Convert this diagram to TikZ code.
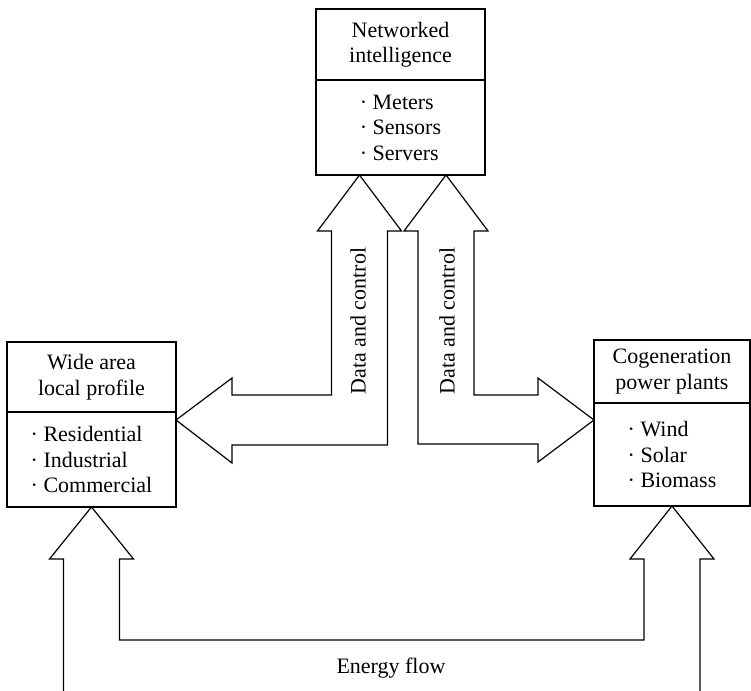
\documentclass[tikz,border=0pt]{standalone}
\usepackage{fontspec}
\setmainfont{Liberation Serif}
\usepackage{tikz}
\usetikzlibrary{positioning,calc}
\newcommand{\itemdot}{\textperiodcentered\ }

\begin{document}
\begin{tikzpicture}[x=0.5pt, y=-0.5pt, line width=0.6pt,
    font=\fontsize{11}{12.75}\selectfont,
    headbox/.style={draw, outer sep=0pt, inner sep=0pt, align=center, minimum width=#1},
    listbox/.style={draw, outer sep=0pt, inner sep=0pt, align=left, minimum width=#1},
    fatarrow/.style={draw, line join=miter}]
  \useasboundingbox (0,0) rectangle (751,691);
  \node[headbox=84.5pt, minimum height=35.5pt] (net) at (400.5,44.5) {Networked\\intelligence};
  \node[listbox=84.5pt, minimum height=47.5pt, below=0pt of net] (netl)
    {\itemdot Meters\\\itemdot Sensors\\\itemdot Servers};
  \node[headbox=84.5pt, minimum height=35pt] (wide) at (91.5,377) {Wide area\\local profile};
  \node[listbox=84.5pt, minimum height=47.5pt, below=0pt of wide] (widel)
    {\itemdot Residential\\\itemdot Industrial\\\itemdot Commercial};
  \node[headbox=78pt, minimum height=31.5pt] (cog) at (672,371.5) {Cogeneration\\power plants};
  \node[listbox=78pt, minimum height=51.5pt, below=0pt of cog] (cogl)
    {\itemdot Wind\\\itemdot Solar\\\itemdot Biomass};
  \coordinate (nl) at ($(netl.south)+(-41,0)$);
  \coordinate (nr) at ($(netl.south)+(45.5,0)$);
  \coordinate (wl) at ($(widel.north east)+(0,8)$);
  \coordinate (cw) at ($(cogl.north west)+(0,17)$);
  \draw[fatarrow] (nl) -- ++(42,56) -- ++(-14,0) |- ($(wl)+(56,25)$) -- ++(0,18)
    -- (wl) -- ++(56,-42) -- ++(0,17) -| ($(nl)+(-28,56)$) -- ++(-14,0) -- cycle;
  \draw[fatarrow] (nr) -- ++(42,56) -- ++(-14,0) |- ($(cw)+(-56,-25)$) -- ++(0,-17)
    -- (cw) -- ++(-56,42) -- ++(0,-18) -| ($(nr)+(-28,56)$) -- ++(-14,0) -- cycle;
  \draw[fatarrow] ($(widel.south)+(-28,184)$) -- ++(0,-132) -- ++(-14,0) -- (widel.south)
    -- ++(42,52) -- ++(-14,0) |- ($(cogl.south)+(-28,134)$) -- ++(0,-81) -- ++(-14,0)
    -- (cogl.south) -- ++(42,53) -- ++(-14,0) -- ++(0,132);
  \node[rotate=90] (dcl) at ($(nl)+(-1.5,146)$) {Data and control};
  \node[rotate=90] (dcr) at ($(nr)+(1,146)$) {Data and control};
  \node (flow) at (391,668) {Energy flow};
\end{tikzpicture}
\end{document}
